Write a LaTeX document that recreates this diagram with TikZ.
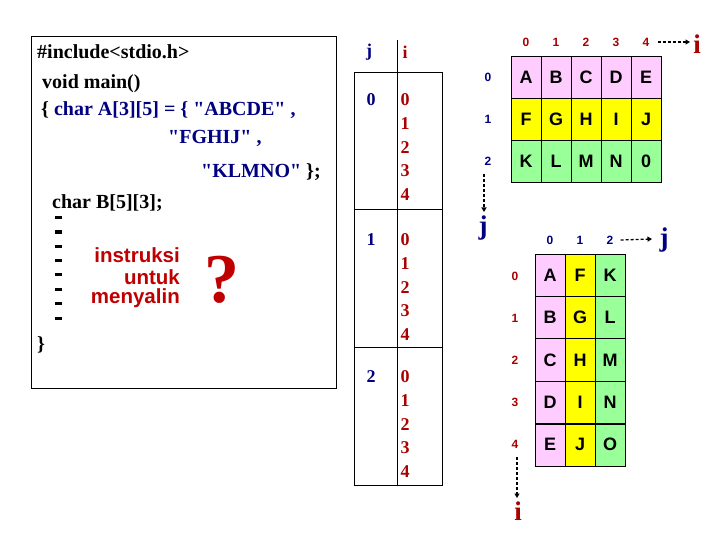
\documentclass[tikz,border=0pt]{standalone}
\usepackage{fontspec}
\setmainfont{Liberation Serif}[Ligatures=TeXOff]
\newfontfamily\arial{Liberation Sans}
\usetikzlibrary{arrows.meta}
\definecolor{navy}{RGB}{0,0,128}
\definecolor{dkred}{RGB}{170,0,0}
\definecolor{ired}{RGB}{192,0,0}
\definecolor{cpink}{RGB}{255,204,255}
\definecolor{cyel}{RGB}{255,255,0}
\definecolor{cgreen}{RGB}{153,255,153}
\tikzset{
  code/.style={anchor=west, inner sep=0pt, font=\fontsize{20}{20}\selectfont\bfseries},
  tnum/.style={inner sep=0pt, font=\fontsize{18}{18}\selectfont\bfseries},
  cell/.style={draw=black, line width=0.9pt, minimum width=30pt, inner sep=0pt, font=\arial\fontsize{18}{18}\selectfont\bfseries},
  idx/.style={inner sep=0pt, font=\arial\fontsize{12}{12}\selectfont\bfseries},
  big/.style={inner sep=0pt, font=\fontsize{27}{27}\selectfont\bfseries},
  darr/.style={dashed, dash pattern=on 3pt off 2pt, line width=1.3pt, -{Triangle[length=4.5pt,width=5pt]}},
  dashmark/.style={line width=3pt},
  red3/.style={anchor=east, inner sep=0pt, text=ired, font=\arial\fontsize{20.5}{20.5}\selectfont\bfseries}
}
\begin{document}
\begin{tikzpicture}[x=1pt,y=-1pt]
\useasboundingbox (0,0) rectangle (720,540);
% left code box
\draw[line width=1pt] (31,37) rectangle (336,388);
\node[code] (l1) at (37,52) {\#include<stdio.h>};
\node[code] (l2) at (42,84) {void main()};
\node[code] (l3) at (41,110) {\{ \textcolor{navy}{char A[3][5] = \{ "ABCDE" ,}};
\node[code, text=navy] (l4) at (168,138) {"FGHIJ" ,};
\node[code] (l5) at (201,172) {\textcolor{navy}{"KLMNO"} \};};
\node[code] (l6) at (52,203) {char B[5][3];};
\foreach \k/\yy in {1/218,2/232,3/246,4/260,5/274,6/289,7/303,8/318}
  \draw[dashmark] (55,\yy) -- (62,\yy);
\node[red3] (r1) at (180,255) {instruksi};
\node[red3] (r2) at (180,277) {untuk};
\node[red3] (r3) at (180,298) {menyalin};
\node[inner sep=0pt, text=ired, font=\fontsize{70}{70}\selectfont\bfseries] (q) at (222,280) {?};
\node[code] (l7) at (37,345) {\}};

% middle table
\draw[line width=1pt] (354,73) rectangle (442,485);
\draw[line width=1pt] (354,210) -- (442,210);
\draw[line width=1pt] (354,347) -- (442,347);
\draw[line width=0.8pt] (397,40) -- (397,485);
\node[tnum, text=navy] (hj) at (369,52) {j};
\node[tnum, text=dkred] (hi) at (405,52) {i};
\foreach \b/\yy in {0/100,1/240,2/377}{
  \node[tnum, text=navy] (mj\b) at (371,\yy) {\b};
  \foreach \r in {0,...,4}
    \node[tnum, text=dkred] (mi\b\r) at (405,\yy+23.7*\r) {\r};
}

% grid A
\foreach \r/\col/\letters in {0/cpink/{A,B,C,D,E},1/cyel/{F,G,H,I,J},2/cgreen/{K,L,M,N,0}}{
  \foreach \L [count=\c from 0] in \letters
    \node[cell, fill=\col, minimum height=42pt] (a\r\c) at (526+30*\c,77+42*\r) {\L};
}
\foreach \c in {0,...,4}
  \node[idx, text=dkred] (ac\c) at (526+30*\c,42) {\c};
\foreach \r in {0,1,2}
  \node[idx, text=navy] (ar\r) at (488,77+42*\r) {\r};
\node[big, text=dkred] (ai) at (697,44) {i};
\node[big, text=navy] (aj) at (483,228) {j};
\coordinate (aiIn) at (690,42);
\coordinate (ajIn) at (484,212);
\draw[darr] ([xshift=8pt]ac4.east) -- (aiIn);
\draw[darr] (484,174) -- (ajIn);

% grid B
\foreach \c/\col/\letters in {0/cpink/{A,B,C,D,E},1/cyel/{F,G,H,I,J},2/cgreen/{K,L,M,N,O}}{
  \foreach \L [count=\r from 0] in \letters
    \node[cell, fill=\col, minimum height=42.4pt] (b\r\c) at (550+30*\c,275.2+42.4*\r) {\L};
}
\draw[line width=1.8pt] (535,423.6) -- (625,423.6);
\foreach \c in {0,1,2}
  \node[idx, text=navy] (bc\c) at (550+30*\c,240) {\c};
\foreach \r in {0,...,4}
  \node[idx, text=dkred] (br\r) at (515,276+42*\r) {\r};
\node[big, text=navy] (bj) at (664,240) {j};
\node[big, text=dkred] (bi) at (518,511) {i};
\coordinate (bjIn) at (652,239);
\coordinate (biIn) at (517,498);
\draw[darr] ([xshift=7pt]bc2.east) -- (bjIn);
\draw[darr] (517,457) -- (biIn);
\end{tikzpicture}
\end{document}
